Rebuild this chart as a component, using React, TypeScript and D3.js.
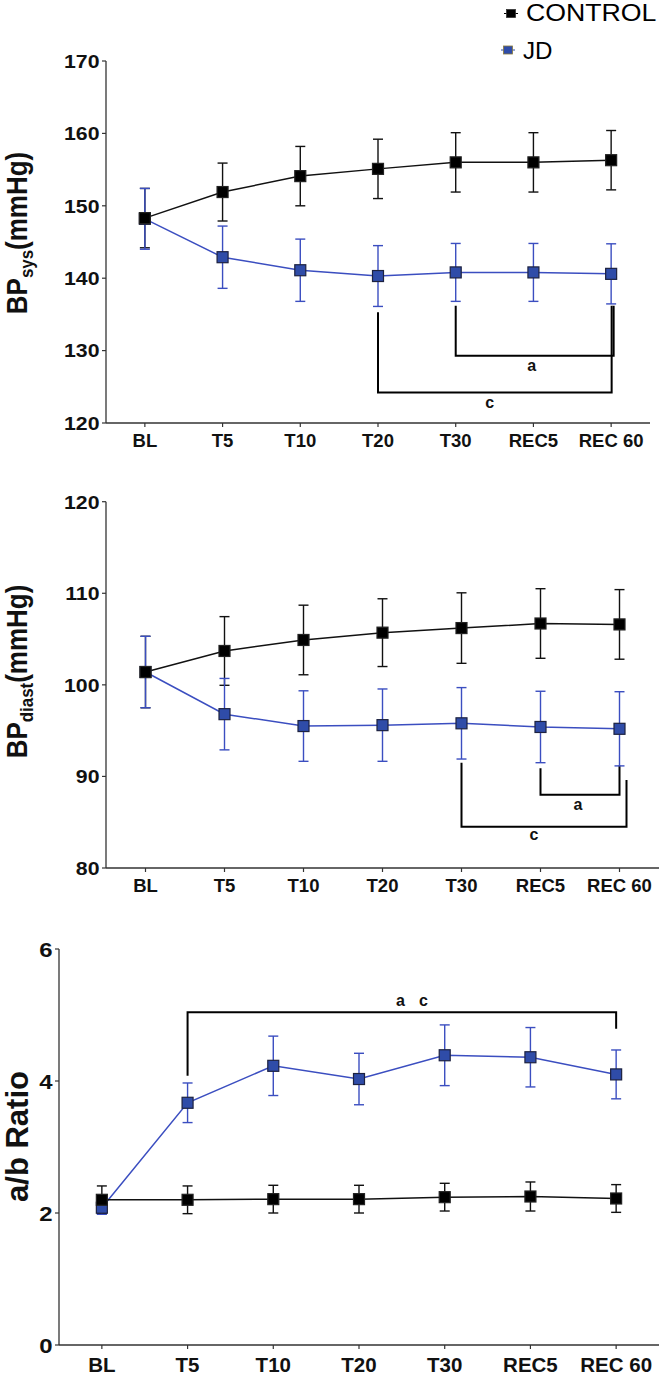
import React from "react";
import * as d3 from "d3";

// ---------- data ----------
const categories = ["BL", "T5", "T10", "T20", "T30", "REC5", "REC 60"];
const seriesNames = ["CONTROL", "JD"];

const sysControl = [148.3, 151.9, 154.1, 155.1, 156.0, 156.0, 156.3];
const sysControlErr = [4.1, 4.0, 4.1, 4.1, 4.1, 4.1, 4.1];
const sysJD = [148.2, 142.9, 141.1, 140.3, 140.8, 140.8, 140.6];
const sysJDErr = [4.2, 4.3, 4.3, 4.2, 4.0, 4.0, 4.15];
const sysTicks = [120, 130, 140, 150, 160, 170];

const diaControl = [101.4, 103.7, 104.9, 105.7, 106.2, 106.7, 106.6];
const diaControlErr = [3.9, 3.75, 3.8, 3.7, 3.85, 3.8, 3.8];
const diaJD = [101.4, 96.8, 95.5, 95.6, 95.8, 95.4, 95.2];
const diaJDErr = [3.9, 3.9, 3.85, 3.95, 3.9, 3.9, 4.05];
const diaTicks = [80, 90, 100, 110, 120];

const ratioControl = [2.2, 2.2, 2.21, 2.21, 2.24, 2.25, 2.22];
const ratioControlErr = [0.21, 0.21, 0.21, 0.21, 0.21, 0.22, 0.21];
const ratioJD = [2.08, 3.67, 4.23, 4.03, 4.39, 4.36, 4.1];
const ratioJDErr = [0.1, 0.3, 0.45, 0.39, 0.46, 0.45, 0.37];
const ratioTicks = [0, 2, 4, 6];

type Bracket = {
  from: string;
  to: string;
  leftTop: number;
  rightTop: number;
  level: number;
  labels: string[];
};

const sysBrackets: Bracket[] = [
  { from: "T20", to: "REC 60", leftTop: 135.3, rightTop: 136.2, level: 124.2, labels: ["c"] },
  { from: "T30", to: "REC 60", leftTop: 136.2, rightTop: 136.2, level: 129.3, labels: ["a"] },
];
const diaBrackets: Bracket[] = [
  { from: "REC5", to: "REC 60", leftTop: 90.9, rightTop: 91.2, level: 88.0, labels: ["a"] },
  { from: "T30", to: "REC 60", leftTop: 91.5, rightTop: 89.6, level: 84.5, labels: ["c"] },
];
const ratioBrackets: Bracket[] = [
  { from: "T5", to: "REC 60", leftTop: 4.08, rightTop: 4.79, level: 5.04, labels: ["a", "c"] },
];

// ---------- styles ----------
const FONT = "'Liberation Sans', Arial, Helvetica, sans-serif";
const BLUE = "#3b4ec0";
const BLUE_FILL = "#2f4ca8";
const AXIS = "#333";

type BracketStyle = { rightDx: number; labelDx: number; labelDy: number };

type PanelCfg = {
  yDomain: [number, number];
  yRange: [number, number];
  xRange: [number, number];
  ticks: number[];
  ctrl: number[];
  ctrlErr: number[];
  jd: number[];
  jdErr: number[];
  brackets: Bracket[];
  bracketStyles: BracketStyle[];
  tickFont: number;
  tickStretch: number;
  xFont: number;
  xLabelDy: number;
  yLabel: { text: string; sub?: boolean }[];
  yLabelX: number;
  yLabelY: number;
  yLabelFont: number;
  yLabelStretch: number;
};

const panels: PanelCfg[] = [
  {
    yDomain: [120, 170],
    yRange: [423, 61],
    xRange: [106, 650],
    ticks: sysTicks,
    ctrl: sysControl,
    ctrlErr: sysControlErr,
    jd: sysJD,
    jdErr: sysJDErr,
    brackets: sysBrackets,
    bracketStyles: [
      { rightDx: 0.5, labelDx: -5, labelDy: 15 },
      { rightDx: 2.5, labelDx: -3, labelDy: 15.5 },
    ],
    tickFont: 19,
    tickStretch: 1.12,
    xFont: 18.5,
    xLabelDy: 23.7,
    yLabel: [{ text: "BP" }, { text: "sys", sub: true }, { text: "(mmHg)" }],
    yLabelX: 27,
    yLabelY: 233,
    yLabelFont: 26,
    yLabelStretch: 1.12,
  },
  {
    yDomain: [80, 120],
    yRange: [868, 501.7],
    xRange: [106, 659],
    ticks: diaTicks,
    ctrl: diaControl,
    ctrlErr: diaControlErr,
    jd: diaJD,
    jdErr: diaJDErr,
    brackets: diaBrackets,
    bracketStyles: [
      { rightDx: 0, labelDx: -2, labelDy: 15.5 },
      { rightDx: 7, labelDx: -10, labelDy: 13.5 },
    ],
    tickFont: 19,
    tickStretch: 1.12,
    xFont: 18.5,
    xLabelDy: 23.7,
    yLabel: [{ text: "BP" }, { text: "diast", sub: true }, { text: "(mmHg)" }],
    yLabelX: 27,
    yLabelY: 671.5,
    yLabelFont: 26,
    yLabelStretch: 1.12,
  },
  {
    yDomain: [0, 6],
    yRange: [1345, 949],
    xRange: [59, 659],
    ticks: ratioTicks,
    ctrl: ratioControl,
    ctrlErr: ratioControlErr,
    jd: ratioJD,
    jdErr: ratioJDErr,
    brackets: ratioBrackets,
    bracketStyles: [{ rightDx: 0, labelDx: -1.5, labelDy: -6.5 }],
    tickFont: 21,
    tickStretch: 1.14,
    xFont: 20.5,
    xLabelDy: 26.5,
    yLabel: [{ text: "a/b Ratio" }],
    yLabelX: 28,
    yLabelY: 1136.5,
    yLabelFont: 31,
    yLabelStretch: 1.0,
  },
];

const MARK = 11;
const CAP = 10;

function Panel({ p }: { p: PanelCfg }) {
  const x = d3.scalePoint<string>().domain(categories).range(p.xRange).padding(0.5);
  const y = d3.scaleLinear().domain(p.yDomain).range(p.yRange);
  const [x0, x1] = p.xRange;
  const [yb, yt] = p.yRange;
  const line = d3
    .line<number>()
    .x((_, i) => x(categories[i]) as number)
    .y((d) => y(d));

  const series = [
    { name: seriesNames[1], vals: p.jd, err: p.jdErr, stroke: BLUE, fill: BLUE_FILL, markStroke: "#1d2240" },
    { name: seriesNames[0], vals: p.ctrl, err: p.ctrlErr, stroke: "#111", fill: "#000", markStroke: "#222" },
  ];

  const errBars = (s: (typeof series)[number]) =>
    s.vals.map((v, i) => {
      const cx = x(categories[i]) as number;
      const hi = y(v + s.err[i]);
      const lo = y(v - s.err[i]);
      return (
        <g key={s.name + i} stroke={s.stroke} strokeWidth={1.4} fill="none">
          <line x1={cx} x2={cx} y1={hi} y2={lo} />
          <line x1={cx - CAP / 2} x2={cx + CAP / 2} y1={hi} y2={hi} />
          <line x1={cx - CAP / 2} x2={cx + CAP / 2} y1={lo} y2={lo} />
        </g>
      );
    });

  const marks = (s: (typeof series)[number]) =>
    s.vals.map((v, i) => {
      const cx = x(categories[i]) as number;
      return (
        <rect
          key={"m" + s.name + i}
          x={cx - MARK / 2}
          y={y(v) - MARK / 2}
          width={MARK}
          height={MARK}
          fill={s.fill}
          stroke={s.markStroke}
          strokeWidth={1.2}
        />
      );
    });

  const subShift = p.yLabelFont * 0.22;

  return (
    <g fontFamily={FONT}>
      {/* axes */}
      <line x1={x0} x2={x0} y1={yt} y2={yb} stroke={AXIS} strokeWidth={1.3} />
      <line x1={x0} x2={x1} y1={yb} y2={yb} stroke={AXIS} strokeWidth={1.3} />
      {p.ticks.map((t) => (
        <g key={"yt" + t}>
          <line x1={x0 - 4} x2={x0} y1={y(t)} y2={y(t)} stroke={AXIS} strokeWidth={1.2} />
          <text
            transform={`translate(${x0 - 6.5},${y(t)}) scale(${p.tickStretch},1)`}
            textAnchor="end"
            dy="0.36em"
            fontSize={p.tickFont}
            fontWeight="bold"
            fill="#111"
          >
            {t}
          </text>
        </g>
      ))}
      {categories.map((c) => (
        <g key={"xt" + c}>
          <line x1={x(c)} x2={x(c)} y1={yb} y2={yb + 4} stroke={AXIS} strokeWidth={1.2} />
          <text
            x={x(c)}
            y={yb + p.xLabelDy}
            textAnchor="middle"
            fontSize={p.xFont}
            fontWeight="bold"
            fill="#111"
          >
            {c}
          </text>
        </g>
      ))}
      {/* y label */}
      <text
        transform={`translate(${p.yLabelX},${p.yLabelY}) scale(${p.yLabelStretch},1) rotate(-90)`}
        textAnchor="middle"
        fontSize={p.yLabelFont}
        fontWeight="bold"
        fill="#111"
      >
        {p.yLabel.map((part, i) =>
          part.sub ? (
            <tspan key={i} fontSize={p.yLabelFont * 0.65} dy={subShift}>
              {part.text}
            </tspan>
          ) : (
            <tspan key={i} dy={i > 0 && p.yLabel[i - 1].sub ? -subShift : 0}>
              {part.text}
            </tspan>
          )
        )}
      </text>

      {/* brackets */}
      {p.brackets.map((b, bi) => {
        const st = p.bracketStyles[bi];
        const xl = x(b.from) as number;
        const xr = (x(b.to) as number) + st.rightDx;
        const ly = y(b.level);
        const mid = (xl + xr) / 2 + st.labelDx;
        return (
          <g key={"br" + bi}>
            <path
              d={`M${xl},${y(b.leftTop)}V${ly}H${xr}V${y(b.rightTop)}`}
              fill="none"
              stroke="#000"
              strokeWidth={2}
            />
            {b.labels.map((l, li) => (
              <text
                key={l}
                x={mid + li * 23}
                y={ly + st.labelDy}
                textAnchor="middle"
                fontSize={16}
                fontWeight="bold"
                fill="#111"
              >
                {l}
              </text>
            ))}
          </g>
        );
      })}

      {/* series */}
      {errBars(series[1])}
      {errBars(series[0])}
      <path d={line(series[0].vals) || ""} fill="none" stroke={series[0].stroke} strokeWidth={1.5} />
      <path d={line(series[1].vals) || ""} fill="none" stroke={series[1].stroke} strokeWidth={1.5} />
      {marks(series[0])}
      {marks(series[1])}
    </g>
  );
}

function Legend() {
  const items = [
    { name: seriesNames[0], fill: "#000", stroke: "#333", cx: 511, cy: 13.5, tx: 526, ty: 21, sx: 1.16 },
    { name: seriesNames[1], fill: BLUE_FILL, stroke: "#8a7a3a", cx: 508, cy: 50, tx: 523, ty: 58.5, sx: 1.05 },
  ];
  return (
    <g fontFamily={FONT}>
      {items.map((it) => (
        <g key={it.name}>
          <line x1={it.cx - 7} x2={it.cx + 7} y1={it.cy} y2={it.cy} stroke={it.fill} strokeWidth={1} />
          <rect x={it.cx - 4.5} y={it.cy - 4} width={9} height={8} fill={it.fill} stroke={it.stroke} strokeWidth={0.8} />
          <text transform={`translate(${it.tx},${it.ty}) scale(${it.sx},1)`} fontSize={23} fill="#000">
            {it.name}
          </text>
        </g>
      ))}
    </g>
  );
}

export default function App() {
  return (
    <svg
      width={661}
      height={1377}
      viewBox="0 0 661 1377"
      style={{ position: "absolute", left: 0, top: 0, background: "#fff" }}
    >
      <rect width={661} height={1377} fill="#fff" />
      {panels.map((p, i) => (
        <Panel key={i} p={p} />
      ))}
      <Legend />
    </svg>
  );
}
